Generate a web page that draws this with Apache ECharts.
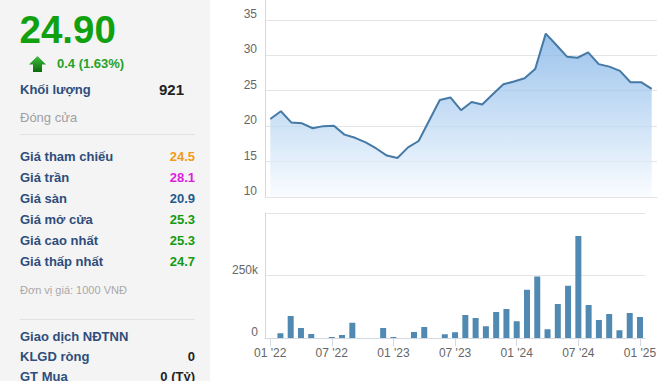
<!DOCTYPE html>
<html>
<head>
<meta charset="utf-8">
<script src="https://cdn.jsdelivr.net/npm/echarts@6/dist/echarts.min.js"></script>
<style>
html,body{margin:0;padding:0;background:#fff;}
#c{width:659px;height:381px;}
</style>
</head>
<body>
<div id="c"></div>
<script>
var months = ["01 '22","02 '22","03 '22","04 '22","05 '22","06 '22","07 '22","08 '22","09 '22","10 '22","11 '22","12 '22",
  "01 '23","02 '23","03 '23","04 '23","05 '23","06 '23","07 '23","08 '23","09 '23","10 '23","11 '23","12 '23",
  "01 '24","02 '24","03 '24","04 '24","05 '24","06 '24","07 '24","08 '24","09 '24","10 '24","11 '24","12 '24",
  "01 '25"];
var prices = [21.0,22.1,20.5,20.4,19.7,20.0,20.05,18.8,18.35,17.7,16.85,15.85,
  15.5,17.0,17.9,20.8,23.7,24.05,22.25,23.4,23.05,24.5,25.9,26.3,
  26.75,28.05,33.05,31.45,29.8,29.65,30.4,28.75,28.4,27.8,26.2,26.2,
  25.25];
var volumes = [0,19000,88000,40000,16000,0,4000,12000,61000,0,0,40000,
  4000,0,24000,44000,0,15000,23000,92000,80000,47000,104000,116000,
  67000,193000,246000,35000,136000,209000,408000,132000,72000,96000,31000,100000,
  84000];

var infoRows = [
  ["Giá tham chiếu","24.5","#f39a16"],
  ["Giá trần","28.1","#dd1ddd"],
  ["Giá sàn","20.9","#1f5a8c"],
  ["Giá mở cửa","25.3","#139a13"],
  ["Giá cao nhất","25.3","#139a13"],
  ["Giá thấp nhất","24.7","#139a13"]
];
var foreignRows = [
  ["KLGD ròng","0"],
  ["GT Mua","0 (Tỷ)"]
];

var FONT = 'Arial, "Liberation Sans", sans-serif';
var LABEL = '#2e4d7b';

var graphics = [
  {type:'rect', shape:{x:0,y:0,width:210,height:381}, style:{fill:'#f4f4f4'}, silent:true, z:-10},
  {type:'text', style:{text:'24.90', x:19.5, y:29, font:'bold 38.5px '+FONT, fill:'#10a010', verticalAlign:'middle'}},
  {type:'polygon', shape:{points:[[37.5,56],[46,64.5],[42,64.5],[42,72],[33,72],[33,64.5],[29,64.5]]},
    style:{fill:new echarts.graphic.LinearGradient(0,0,0,1,[{offset:0,color:'#3fbf3f'},{offset:1,color:'#0b6b0b'}])}},
  {type:'text', style:{text:'0.4 (1.63%)', x:57, y:63, font:'bold 13px '+FONT, fill:'#27a127', verticalAlign:'middle'}},
  {type:'text', style:{text:'Khối lượng', x:20, y:89, font:'bold 13px '+FONT, fill:LABEL, verticalAlign:'middle'}},
  {type:'text', style:{text:'921', x:184, y:89, font:'bold 15px '+FONT, fill:'#222', align:'right', verticalAlign:'middle'}},
  {type:'text', style:{text:'Đóng cửa', x:20, y:117, font:'13px '+FONT, fill:'#a0a0a0', verticalAlign:'middle'}},
  {type:'line', shape:{x1:20,y1:134.5,x2:195,y2:134.5}, style:{stroke:'#e2e2e2', lineWidth:1}},
  {type:'text', style:{text:'Đơn vị giá: 1000 VNĐ', x:20, y:290, font:'11px '+FONT, fill:'#a8a8a8', verticalAlign:'middle'}},
  {type:'line', shape:{x1:20,y1:319.5,x2:195,y2:319.5}, style:{stroke:'#e2e2e2', lineWidth:1}},
  {type:'text', style:{text:'Giao dịch NĐTNN', x:20, y:336, font:'bold 13px '+FONT, fill:LABEL, verticalAlign:'middle'}}
];
infoRows.forEach(function(r,i){
  var y = 156 + i*21;
  graphics.push({type:'text', style:{text:r[0], x:20, y:y, font:'bold 13px '+FONT, fill:LABEL, verticalAlign:'middle'}});
  graphics.push({type:'text', style:{text:r[1], x:195, y:y, font:'bold 13px '+FONT, fill:r[2], align:'right', verticalAlign:'middle'}});
});
foreignRows.forEach(function(r,i){
  var y = 356 + i*20;
  graphics.push({type:'text', style:{text:r[0], x:20, y:y, font:'bold 13px '+FONT, fill:LABEL, verticalAlign:'middle'}});
  graphics.push({type:'text', style:{text:r[1], x:195, y:y, font:'bold 13px '+FONT, fill:'#222', align:'right', verticalAlign:'middle'}});
});

var chart = echarts.init(document.getElementById('c'), null, {renderer:'svg'});
var axisGray = '#d4d8e0';
var gridGray = '#e4e4e4';
var labelStyle = {color:'#666', fontSize:12, fontFamily:FONT};

chart.setOption({
  animation:false,
  backgroundColor:'#fff',
  graphic: graphics,
  grid:[
    {left:265, right:2, top:0, bottom:184},
    {left:265, right:2, top:213, bottom:43}
  ],
  xAxis:[
    {type:'category', gridIndex:0, data:months, boundaryGap:true,
     axisLine:{show:true, lineStyle:{color:gridGray}}, axisTick:{show:false}, axisLabel:{show:false}, splitLine:{show:false}},
    {type:'category', gridIndex:1, data:months, boundaryGap:true,
     axisLine:{show:true, lineStyle:{color:axisGray}},
     axisTick:{show:true, interval:5, alignWithLabel:true, length:8, lineStyle:{color:axisGray}},
     axisLabel:Object.assign({interval:5, margin:9}, labelStyle),
     splitLine:{show:false}}
  ],
  yAxis:[
    {type:'value', gridIndex:0, min:10, max:37.8, interval:5,
     axisLine:{show:true, lineStyle:{color:axisGray}}, axisTick:{show:false},
     axisLabel:Object.assign({showMaxLabel:false, verticalAlign:'bottom', margin:8}, labelStyle),
     splitLine:{show:true, showMaxLine:false, lineStyle:{color:gridGray}}},
    {type:'value', gridIndex:1, min:0, max:500000, interval:250000,
     axisLine:{show:true, lineStyle:{color:axisGray}}, axisTick:{show:false},
     axisLabel:Object.assign({showMaxLabel:false, verticalAlign:'bottom', margin:7,
       formatter:function(v){return v===0?'0':(v/1000)+'k';}}, labelStyle),
     splitLine:{show:true, lineStyle:{color:gridGray}}}
  ],
  series:[
    {type:'line', xAxisIndex:0, yAxisIndex:0, data:prices, symbol:'none', smooth:false,
     lineStyle:{color:'#4579a6', width:2},
     areaStyle:{color:new echarts.graphic.LinearGradient(0,0,0,1,[
       {offset:0,color:'#72aae4'},{offset:0.55,color:'#b9d6f3'},{offset:1,color:'#f8fbff'}])}},
    {type:'bar', xAxisIndex:1, yAxisIndex:1, data:volumes, barWidth:6,
     itemStyle:{color:'#5089b1'}}
  ]
});
</script>
</body>
</html>
